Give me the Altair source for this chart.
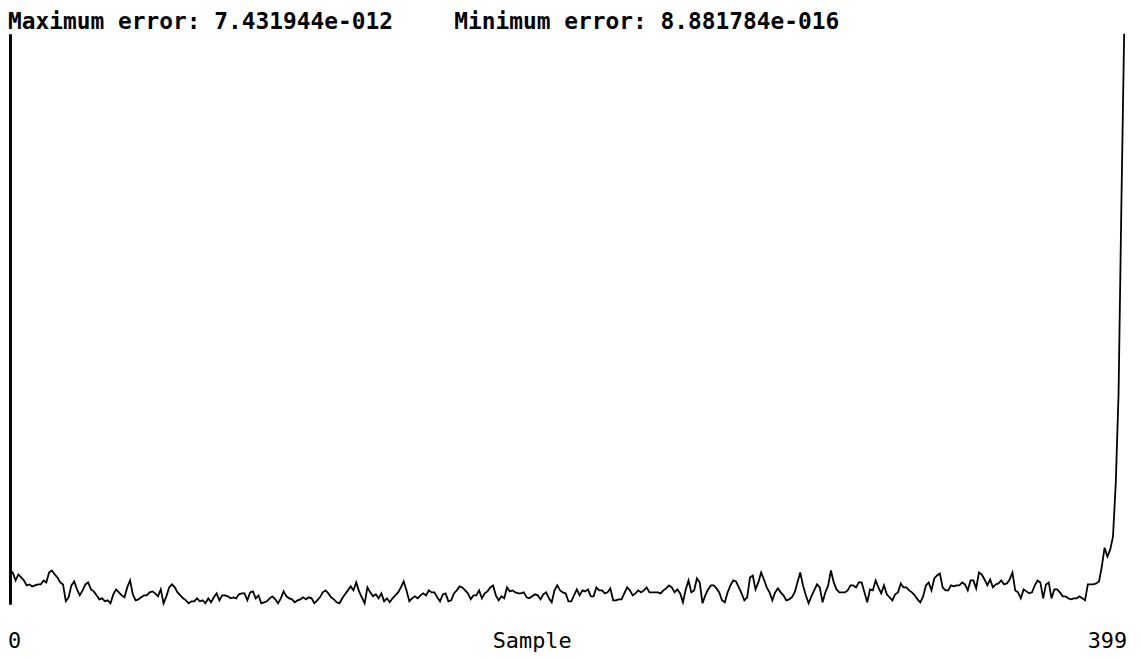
import altair as alt
import pandas as pd

TITLE_MAX = "Maximum error: 7.431944e-012"
TITLE_MIN = "Minimum error: 8.881784e-016"
MAX_ERR = 7.431944e-12

X_LABELS = ["0", "Sample", "399"]
X_LABEL_POS = [0, 187, 399]
X_LABEL_ALIGN = ["left", "center", "right"]

# Error per sample, read from the picture as height above the baseline
# (largest sample = 574 units, which is the maximum error 7.431944e-012)
r000 = [34, 32, 24, 30, 27, 24, 19, 20, 18, 19, 20, 20, 24, 22, 32, 34, 30, 27, 22, 20]
r020 = [3, 7, 19, 23, 15, 9, 14, 20, 22, 15, 13, 9, 5, 6, 3, 4, 1, 10, 15, 12]
r040 = [9, 7, 17, 24, 10, 4, 5, 7, 9, 9, 12, 13, 11, 8, 15, 1, 8, 17, 20, 17]
r060 = [12, 9, 6, 4, 1, 3, 3, 6, 3, 4, 1, 6, 2, 7, 11, 4, 9, 9, 8, 6]
r080 = [7, 6, 10, 11, 11, 4, 12, 13, 6, 9, 1, 2, 3, 6, 8, 5, 1, 6, 13, 8]
r100 = [6, 5, 2, 4, 5, 7, 5, 7, 6, 1, 4, 7, 12, 14, 11, 7, 5, 2, 1, 6]
r120 = [10, 14, 18, 14, 22, 13, 7, 1, 17, 12, 8, 10, 6, 11, 3, 6, 2, 6, 9, 12]
r140 = [17, 23, 14, 3, 6, 8, 6, 9, 11, 9, 14, 12, 12, 7, 3, 10, 11, 3, 4, 11]
r160 = [14, 18, 17, 14, 11, 5, 9, 9, 14, 6, 11, 13, 17, 19, 9, 4, 8, 6, 17, 13]
r180 = [14, 12, 11, 11, 12, 7, 6, 8, 10, 9, 5, 10, 12, 6, 2, 14, 19, 14, 12, 11]
r200 = [3, 3, 9, 15, 9, 14, 13, 15, 8, 8, 17, 14, 14, 11, 12, 16, 4, 4, 5, 5]
r220 = [11, 17, 14, 9, 11, 14, 12, 14, 17, 12, 12, 12, 12, 11, 14, 16, 19, 17, 12, 15]
r240 = [11, 2, 15, 24, 12, 14, 26, 22, 1, 9, 15, 19, 19, 16, 12, 4, 2, 12, 19, 24]
r260 = [23, 17, 11, 4, 7, 27, 29, 15, 22, 32, 25, 17, 12, 4, 12, 16, 12, 9, 4, 5]
r280 = [7, 12, 22, 32, 19, 9, 1, 8, 14, 20, 17, 2, 12, 19, 34, 22, 15, 12, 12, 12]
r300 = [14, 19, 19, 17, 22, 22, 12, 2, 15, 14, 24, 17, 11, 19, 10, 7, 4, 10, 12, 21]
r320 = [17, 17, 14, 12, 9, 5, 2, 8, 19, 22, 14, 26, 29, 31, 17, 14, 14, 19, 18, 19]
r340 = [19, 22, 20, 14, 24, 24, 16, 32, 30, 25, 19, 25, 17, 20, 21, 24, 20, 21, 25, 32]
r360 = [14, 12, 6, 15, 13, 11, 12, 19, 24, 22, 6, 20, 22, 6, 15, 15, 12, 8, 8, 6]
r380 = [5, 6, 6, 8, 6, 4, 20, 20, 20, 21, 23, 38, 57, 48, 55, 68, 122, 212, 400, 574]

readings = (r000 + r020 + r040 + r060 + r080 + r100 + r120 + r140 + r160 + r180
            + r200 + r220 + r240 + r260 + r280 + r300 + r320 + r340 + r360 + r380)
assert len(readings) == 400
unit = MAX_ERR / max(readings)

df = pd.DataFrame({"sample": list(range(len(readings))),
                   "error": [r * unit for r in readings]})

W, H = 1127, 574
x_scale = alt.Scale(domain=[0, 401.1], nice=False, zero=False)
y_scale = alt.Scale(domain=[0, MAX_ERR], nice=False)

MONO = "DejaVu Sans Mono"

line = alt.Chart(df).mark_line(color="black", strokeWidth=1.8).encode(
    x=alt.X("sample:Q", scale=x_scale,
            axis=alt.Axis(domain=True, domainColor="black", domainWidth=2,
                          labels=False, ticks=False, grid=False, title=None)),
    y=alt.Y("error:Q", scale=y_scale,
            axis=alt.Axis(domain=True, domainColor="black", domainWidth=3,
                          labels=False, ticks=False, grid=False, title=None)),
)

t_max = alt.Chart(pd.DataFrame({"t": [TITLE_MAX]})).mark_text(
    font=MONO, fontSize=23, fontWeight="bold", align="left",
    baseline="alphabetic", color="black"
).encode(text="t:N", x=alt.value(-2), y=alt.value(-5))

t_min = alt.Chart(pd.DataFrame({"t": [TITLE_MIN]})).mark_text(
    font=MONO, fontSize=23, fontWeight="bold", align="left",
    baseline="alphabetic", color="black"
).encode(text="t:N", x=alt.value(447), y=alt.value(-5))

label_layers = []
for lab, pos, al in zip(X_LABELS, X_LABEL_POS, X_LABEL_ALIGN):
    label_layers.append(
        alt.Chart(pd.DataFrame({"sample": [pos], "t": [lab]})).mark_text(
            font=MONO, fontSize=22, align=al, baseline="alphabetic",
            color="black", dx=-2 if al == "left" else (3 if al == "right" else 0)
        ).encode(text="t:N",
                 x=alt.X("sample:Q", scale=x_scale, axis=None),
                 y=alt.value(H + 44))
    )

chart = alt.layer(line, t_max, t_min, *label_layers).properties(
    width=W, height=H,
    padding={"left": 2, "top": 24, "right": 2, "bottom": 48},
    autosize=alt.AutoSizeParams(type="none"),
    background="white",
).configure_view(stroke=None)

chart.save("out.html", embed_options={"renderer": "svg", "actions": False})
